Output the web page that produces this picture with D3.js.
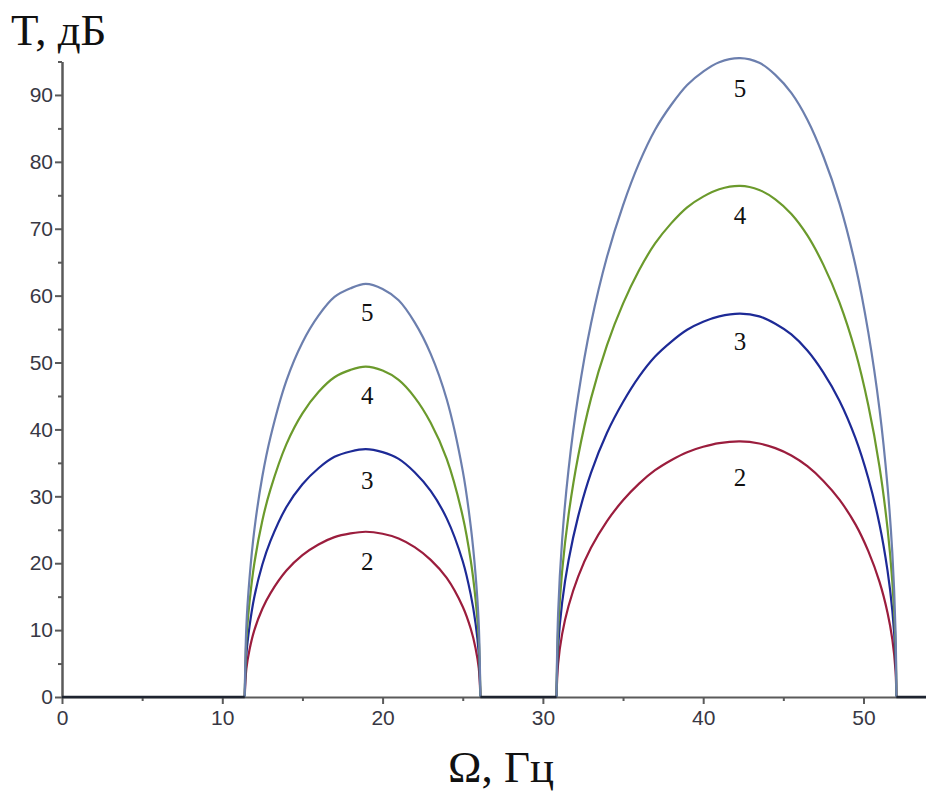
<!DOCTYPE html>
<html lang="ru">
<head>
<meta charset="UTF-8">
<title>T(Ω)</title>
<script src="https://d3js.org/d3.v7.min.js"></script>
<style>
  body, html { margin: 0; padding: 0; background: #fff; overflow: hidden; }
  svg { display: block; }
  .axis text { font-family: "Liberation Sans", Arial, sans-serif; font-size: 21px; fill: #383844; }
  .axis path, .axis line { stroke: #5a5a5a; }
  .title { font-family: "Liberation Serif", "Times New Roman", serif; font-size: 45px; fill: #111; }
  .curve-label { font-family: "Liberation Serif", "Times New Roman", serif; font-size: 25px; fill: #111; }
</style>
</head>
<body>
<div id="chart"></div>
<script>
// frequency samples, Hz (shared by every curve)
const omega = [
  0, 11.4, 11.5, 11.7, 12, 12.5, 13, 14, 15, 16, 17, 18, 18.95, 20, 21, 22, 23, 24, 25, 25.5, 25.8, 26, 26.1,
  30.85, 30.95, 31.2, 31.6, 32.2, 33, 34, 35, 36, 37, 38, 39, 40, 41, 42.3, 43.5, 44.5, 45.5, 46.5, 47.5,
  48.5, 49.5, 50.3, 51, 51.5, 51.8, 52.0, 52.05, 53.9
];

// T, dB for each curve
const t2 = [
  0, 0, 4.2, 7.1, 10.0, 13.2, 15.5, 18.9, 21.2, 22.8, 23.9, 24.45, 24.7, 24.4, 23.7, 22.4, 20.5, 17.8, 13.5, 10.2, 7.3, 4.3, 0,
  0, 5.0, 9.4, 13.6, 18.0, 22.3, 26.3, 29.4, 31.9, 33.9, 35.4, 36.6, 37.4, 37.95, 38.2, 37.9, 37.2, 36.1, 34.5, 32.3,
  29.5, 25.8, 21.8, 17.2, 12.6, 8.6, 3.9, 0, 0
];
const t3 = [
  0, 0, 6.3, 10.6, 15.0, 19.8, 23.3, 28.4, 31.8, 34.2, 35.9, 36.7, 37.05, 36.6, 35.6, 33.6, 30.8, 26.7, 20.3, 15.3, 11.0, 6.5, 0,
  0, 7.5, 14.1, 20.4, 27.0, 33.5, 39.5, 44.1, 47.9, 50.9, 53.1, 54.9, 56.1, 56.9, 57.3, 56.9, 55.8, 54.2, 51.8, 48.5,
  44.3, 38.7, 32.7, 25.8, 18.9, 12.9, 5.9, 0, 0
];
const t4 = [
  0, 0, 8.4, 14.2, 20.0, 26.4, 31.0, 37.8, 42.4, 45.6, 47.8, 48.9, 49.4, 48.8, 47.4, 44.8, 41.0, 35.6, 27.0, 20.4, 14.6, 8.6, 0,
  0, 10.0, 18.8, 27.2, 36.0, 44.6, 52.6, 58.8, 63.8, 67.8, 70.8, 73.2, 74.8, 75.9, 76.4, 75.8, 74.4, 72.2, 69.0, 64.6,
  59.0, 51.6, 43.6, 34.4, 25.2, 17.2, 7.8, 0, 0
];
const t5 = [
  0, 0, 10.5, 17.8, 25.0, 33.0, 38.8, 47.3, 53.0, 57.0, 59.8, 61.1, 61.75, 61.0, 59.3, 56.0, 51.3, 44.5, 33.8, 25.5, 18.3, 10.8, 0,
  0, 12.5, 23.5, 34.0, 45.0, 55.8, 65.8, 73.5, 79.8, 84.8, 88.5, 91.5, 93.5, 94.9, 95.5, 94.8, 93.0, 90.3, 86.3, 80.8,
  73.8, 64.5, 54.5, 43.0, 31.5, 21.5, 9.8, 0, 0
];

const curveNames = ["2", "3", "4", "5"];
const curveColors = ["#9b1d3d", "#1d2a96", "#6b9a2c", "#6c7fae"];

// index ranges of omega covering each stop band
const bands = [[1, 22], [23, 50]];

// curve number labels inside each arch
const labelOmega = [19.05, 42.3];
const labelBand1 = [20.2, 32.4, 45.1, 57.5];
const labelBand2 = [32.8, 53.1, 72.0, 91.0];

const xTicks = [0, 10, 20, 30, 40, 50];
const yTicks = [0, 10, 20, 30, 40, 50, 60, 70, 80, 90];

const width = 926, height = 791;
const svg = d3.select("#chart").append("svg")
  .attr("width", width)
  .attr("height", height);

const x = d3.scaleLinear().domain([0, 53.9]).range([62, 926]);
const y = d3.scaleLinear().domain([0, 95]).range([697, 61.5]);

// minor ticks first
const minorX = d3.range(5, 54, 10);
const minorY = d3.range(5, 96, 10);

svg.append("g")
  .attr("class", "axis")
  .attr("transform", `translate(0,${y(0)})`)
  .call(d3.axisBottom(x).tickValues(minorX).tickSize(4).tickFormat(""))
  .call(g => g.select(".domain").remove())
  .selectAll("line").attr("stroke-width", 2);

svg.append("g")
  .attr("class", "axis")
  .attr("transform", `translate(${x(0)},0)`)
  .call(d3.axisLeft(y).tickValues(minorY).tickSize(4).tickFormat(""))
  .call(g => g.select(".domain").remove())
  .selectAll("line").attr("stroke-width", 2);

const xAxis = svg.append("g")
  .attr("class", "axis")
  .attr("transform", `translate(0,${y(0)})`)
  .call(d3.axisBottom(x).tickValues(xTicks).tickSize(7).tickSizeOuter(0).tickPadding(6));
xAxis.select(".domain").attr("stroke-width", 2);
xAxis.selectAll("line").attr("stroke-width", 2);

const yAxis = svg.append("g")
  .attr("class", "axis")
  .attr("transform", `translate(${x(0)},0)`)
  .call(d3.axisLeft(y).tickValues(yTicks).tickSize(7).tickSizeOuter(0).tickPadding(2));
yAxis.select(".domain").attr("stroke-width", 2.5);
yAxis.selectAll("line").attr("stroke-width", 2);

// curves: smooth arches inside the bands, straight runs at zero outside
const smooth = d3.line()
  .x(d => x(d[0]))
  .y(d => y(d[1]))
  .curve(d3.curveCatmullRom.alpha(0.5));

[t2, t3, t4, t5].forEach((series, k) => {
  const pts = omega.map((w, i) => [w, series[i]]);
  const dStr = bands.map(b => smooth(pts.slice(b[0], b[1] + 1))).join("");
  svg.append("path")
    .attr("fill", "none")
    .attr("stroke", curveColors[k])
    .attr("stroke-width", 2.2)
    .attr("stroke-linejoin", "round")
    .attr("d", dStr);
});

// dark baseline where all curves sit at zero
const zeroRuns = [[0, 1], [22, 23], [50, 51]];
svg.append("path")
  .attr("fill", "none")
  .attr("stroke", "#1e2430")
  .attr("stroke-width", 2.6)
  .attr("d", zeroRuns.map(r => d3.line()(r.map(i => [x(omega[i]), y(t2[i])]))).join(""));

// curve numbers
[labelBand1, labelBand2].forEach((vals, b) => {
  svg.selectAll(null)
    .data(vals)
    .enter().append("text")
    .attr("class", "curve-label")
    .attr("x", x(labelOmega[b]))
    .attr("y", d => y(d))
    .attr("text-anchor", "middle")
    .attr("dominant-baseline", "central")
    .text((d, i) => curveNames[i]);
});

// axis titles
svg.append("text")
  .attr("class", "title")
  .attr("x", 11)
  .attr("y", 45)
  .text("T, дБ");

svg.append("text")
  .attr("class", "title")
  .attr("x", 501)
  .attr("y", 782)
  .attr("text-anchor", "middle")
  .text("Ω, Гц");
</script>
</body>
</html>
